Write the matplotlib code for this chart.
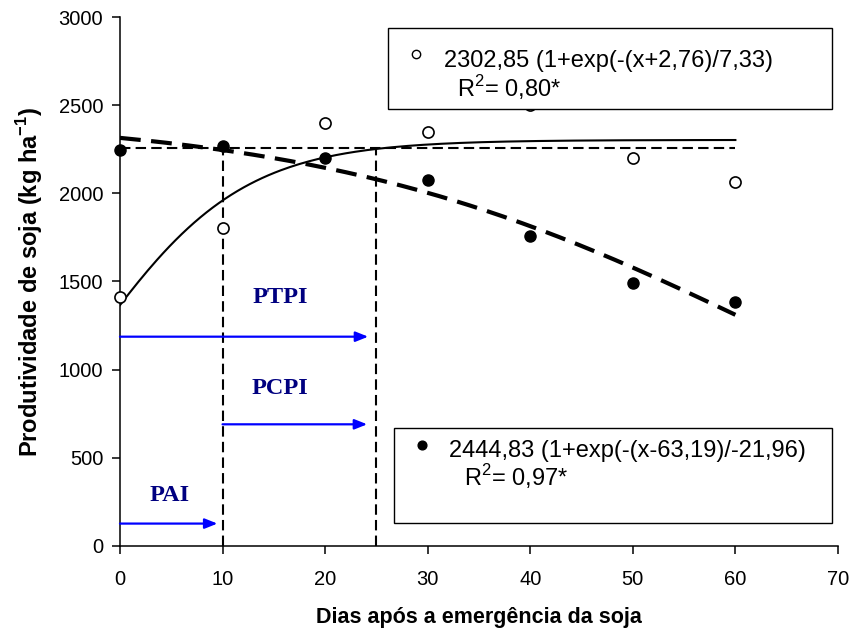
import numpy as np
import matplotlib.pyplot as plt
from matplotlib.patches import Rectangle

plt.rcParams['font.family'] = 'Liberation Sans'
plt.rcParams['mathtext.fontset'] = 'custom'
plt.rcParams['mathtext.rm'] = 'Liberation Sans'
plt.rcParams['mathtext.bf'] = 'Liberation Sans:bold'

# dados
dias = [0, 10, 20, 30, 40, 50, 60]
conv_infest = [1412, 1805, 2400, 2350, 2500, 2200, 2065]   # circulos abertos
livre_infest = [2248, 2270, 2200, 2075, 1760, 1490, 1385]  # circulos cheios

# parametros das curvas (legendas)
a1, x01, b1 = 2302.85, -2.76, 7.33
a2, x02, b2 = 2444.83, 63.19, -21.96

nivel = 2255        # linha horizontal tracejada
pai_fim = 10
ptpi_fim = 25

fig = plt.figure(figsize=(8.49, 6.35), dpi=100)
ax = fig.add_axes([0.1413, 0.1402, 0.8457, 0.833])

xs = np.linspace(0, 60, 200)
y1 = a1 / (1 + np.exp(-(xs - x01) / b1))
y2 = a2 / (1 + np.exp(-(xs - x02) / b2))

ax.plot([0, 60], [nivel, nivel], color='black', lw=1.5, ls=(0, (5, 2.5)), zorder=2)
ax.plot([pai_fim, pai_fim], [0, nivel + 15], color='black', lw=1.5, ls=(0, (5, 2.5)), zorder=2)
ax.plot([ptpi_fim, ptpi_fim], [0, nivel], color='black', lw=1.5, ls=(0, (5, 2.5)), zorder=2)

ax.plot(xs, y1, color='black', lw=1.5, zorder=3)
ax.plot(xs, y2, color='black', lw=3, ls=(0, (5, 2.5)), zorder=3)

ax.plot(dias, conv_infest, 'o', mfc='white', mec='black', ms=8, mew=1.2, zorder=4, clip_on=False)
ax.plot(dias, livre_infest, 'o', mfc='black', mec='black', ms=8, zorder=4, clip_on=False)

# setas dos periodos
arr = dict(arrowstyle='-|>,head_length=0.75,head_width=0.3', color='#0000ff', lw=1.6, shrinkA=0, shrinkB=0)
ax.annotate('', xy=(24.2, 1187), xytext=(0, 1187), arrowprops=arr, zorder=5)
ax.annotate('', xy=(24.1, 690), xytext=(pai_fim, 690), arrowprops=arr, zorder=5)
ax.annotate('', xy=(9.5, 127), xytext=(0, 127), arrowprops=arr, zorder=5)

lbl = dict(family='Liberation Serif', weight='bold', color='#000080', fontsize=17.5, ha='center', va='center')
ax.text(15.6, 1409, 'PTPI', **lbl)
ax.text(15.6, 892, 'PCPI', **lbl)
ax.text(4.8, 284, 'PAI', **lbl)

# caixas das equacoes
ax.add_patch(Rectangle((26.1, 2477), 43.3, 461, fc='white', ec='black', lw=1, zorder=6))
ax.plot([28.9], [2790], 'o', mfc='white', mec='black', ms=6, zorder=7)
ax.text(31.6, 2752, '2302,85 (1+exp(-(x+2,76)/7,33)', fontsize=17, va='center', zorder=7)
ax.text(32.9, 2600, 'R$^2$= 0,80*', fontsize=17, va='center', zorder=7)

ax.add_patch(Rectangle((26.7, 130), 42.7, 540, fc='white', ec='black', lw=1, zorder=6))
ax.plot([29.4], [572], 'o', mfc='black', mec='black', ms=6.3, zorder=7)
ax.text(32.1, 540, '2444,83 (1+exp(-(x-63,19)/-21,96)', fontsize=17, va='center', zorder=7)
ax.text(33.5, 392, 'R$^2$= 0,97*', fontsize=17, va='center', zorder=7)

ax.set_xlim(0, 70)
ax.set_ylim(0, 3000)
ax.set_xticks(range(0, 71, 10))
ax.set_yticks(range(0, 3001, 500))
ax.spines['top'].set_visible(False)
ax.spines['right'].set_visible(False)
ax.spines['left'].set_linewidth(1.1)
ax.spines['bottom'].set_linewidth(1.1)
ax.tick_params(direction='out', length=6, width=1.1, labelsize=14.5)
ax.tick_params(axis='x', pad=11)
ax.tick_params(axis='y', pad=6)
ax.set_xlabel('Dias após a emergência da soja', fontsize=15.5, fontweight='bold', labelpad=13)
ax.set_ylabel('Produtividade de soja (kg ha$^{\\mathbf{-1}}$)', fontsize=17, fontweight='bold', labelpad=10)

fig.savefig('out.png', dpi=100)
